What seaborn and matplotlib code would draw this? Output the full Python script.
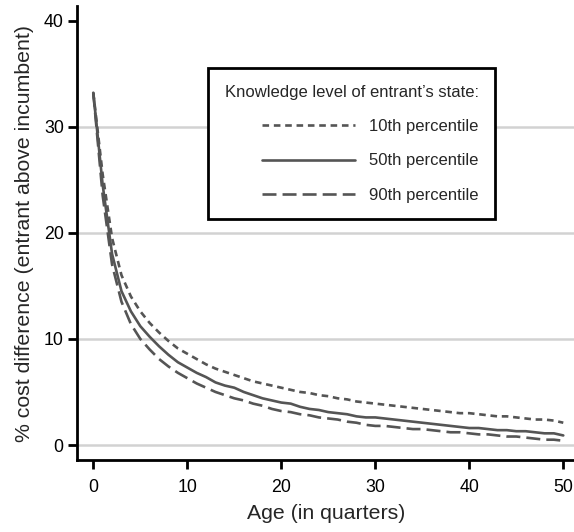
import matplotlib
matplotlib.use("Agg")
import matplotlib.pyplot as plt
import seaborn as sns
import pandas as pd

# Age of entrant, in quarters
age = list(range(51))

# % cost difference (entrant above incumbent) by knowledge level of entrant's state
p10 = [33.2, 25.5, 19.5, 16.0, 14.0, 12.6, 11.5, 10.6, 9.8, 9.1,
       8.6, 8.1, 7.6, 7.2, 6.9, 6.6, 6.3, 6.0, 5.8, 5.6,
       5.4, 5.2, 5.0, 4.9, 4.7, 4.6, 4.4, 4.3, 4.1, 4.0,
       3.9, 3.8, 3.7, 3.6, 3.5, 3.4, 3.3, 3.2, 3.1, 3.0,
       3.0, 2.9, 2.8, 2.7, 2.7, 2.6, 2.5, 2.4, 2.4, 2.3, 2.1]
p50 = [33.2, 24.5, 18.0, 14.5, 12.6, 11.2, 10.2, 9.3, 8.5, 7.8,
       7.3, 6.8, 6.4, 5.9, 5.6, 5.4, 5.0, 4.7, 4.4, 4.2,
       4.0, 3.9, 3.6, 3.4, 3.3, 3.1, 3.0, 2.9, 2.7, 2.6,
       2.6, 2.5, 2.4, 2.3, 2.2, 2.1, 2.0, 1.9, 1.8, 1.7,
       1.6, 1.6, 1.5, 1.4, 1.4, 1.3, 1.3, 1.2, 1.1, 1.1, 0.9]
p90 = [33.2, 23.5, 17.0, 13.5, 11.4, 10.0, 9.0, 8.1, 7.4, 6.8,
       6.3, 5.8, 5.4, 5.0, 4.7, 4.4, 4.2, 3.9, 3.7, 3.4,
       3.2, 3.1, 2.9, 2.8, 2.6, 2.5, 2.4, 2.2, 2.1, 1.9,
       1.8, 1.8, 1.7, 1.6, 1.5, 1.5, 1.4, 1.3, 1.2, 1.2,
       1.1, 1.0, 1.0, 0.9, 0.8, 0.8, 0.7, 0.6, 0.5, 0.5, 0.4]

labels = ["10th percentile", "50th percentile", "90th percentile"]
y_ticks = [0, 10, 20, 30, 40]
x_ticks = [0, 10, 20, 30, 40, 50]

df = pd.concat([
    pd.DataFrame({"age": age, "cost": vals, "level": lab})
    for vals, lab in zip([p10, p50, p90], labels)
])

sns.set_style("ticks")
plt.rcParams["font.family"] = ["Liberation Sans", "DejaVu Sans"]

fig = plt.figure(figsize=(5.74, 5.32), dpi=100)
ax = fig.add_axes([0.135, 0.1344, 0.865, 0.8543])

line_color = "#555555"
lw = 1.9
dash_map = {
    labels[0]: (2.5, 1.8),
    labels[1]: "",
    labels[2]: (5.3, 2.3),
}

sns.lineplot(data=df, x="age", y="cost", style="level", style_order=labels,
             dashes=dash_map, color=line_color, linewidth=lw, ax=ax,
             legend=True)

# horizontal reference lines
for yv in y_ticks[:-1]:
    ax.axhline(yv, color="#d2d2d2", linewidth=1.8, zorder=0)

ax.set_xlim(-1.68, 51.14)
ax.set_ylim(-1.46, 41.37)
ax.set_xticks(x_ticks)
ax.set_yticks(y_ticks)

for side in ["top", "right"]:
    ax.spines[side].set_visible(False)
for side in ["left", "bottom"]:
    ax.spines[side].set_linewidth(2.0)
    ax.spines[side].set_color("black")

ax.tick_params(axis="both", direction="out", length=6.3, width=2.0,
               labelsize=12.8, colors="black")
ax.tick_params(axis="x", pad=7)
ax.tick_params(axis="y", pad=3.6)
ax.set_xlabel("Age (in quarters)", fontsize=15.3, labelpad=5.5)
ax.set_ylabel("% cost difference (entrant above incumbent)", fontsize=15.3,
              labelpad=7)

handles, _ = ax.get_legend_handles_labels()
leg = ax.legend(handles[-3:], labels,
                title="Knowledge level of entrant\u2019s state:",
                loc="upper left", bbox_to_anchor=(0.263, 0.8636),
                borderaxespad=0,
                frameon=True, fancybox=False, framealpha=1,
                edgecolor="black", fontsize=12, title_fontsize=12,
                handlelength=5.6, handletextpad=0.85, labelspacing=1.16,
                borderpad=1.0, alignment="right")
leg.get_frame().set_linewidth(2.0)
for h in leg.get_lines():
    h.set_linewidth(lw)

fig.savefig("out.png", dpi=100)
